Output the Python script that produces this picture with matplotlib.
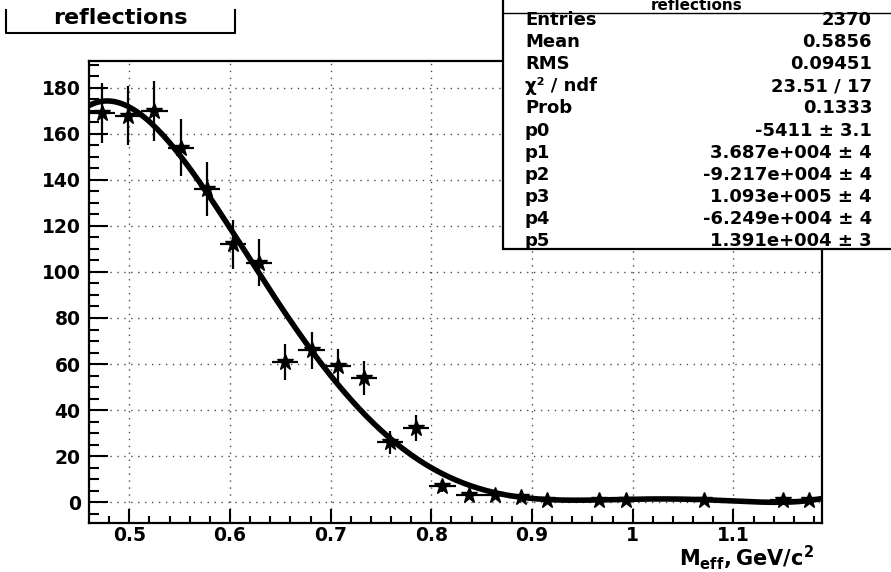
import numpy as np
import matplotlib.pyplot as plt
from matplotlib.patches import Rectangle
from matplotlib.lines import Line2D

# histogram "reflections": 28 bins, width 0.026, 0.46 .. 1.188
bin_centers = [0.473, 0.499, 0.525, 0.551, 0.577, 0.603, 0.629, 0.655, 0.681,
               0.707, 0.733, 0.759, 0.785, 0.811, 0.837, 0.863, 0.889, 0.915,
               0.941, 0.967, 0.993, 1.019, 1.045, 1.071, 1.097, 1.123, 1.149, 1.175]
counts = [169, 168, 170, 154, 136, 112, 104, 61, 66, 59, 54, 26, 32, 7, 3, 3, 2, 1,
          0, 1, 1, 0, 0, 1, 0, 0, 1, 1]
half_width = 0.013

# pol5 fit parameters p0..p5 (printed rounded in the stats box)
fit_params = [-5410.97, 36870.73, -92170.81, 109284.88, -62487.50, 13914.90]

stat_names = ['Entries', 'Mean', 'RMS', 'χ² / ndf', 'Prob',
              'p0', 'p1', 'p2', 'p3', 'p4', 'p5']
stat_values = ['2370', '0.5856', '0.09451', '23.51 / 17', '0.1333',
               '-5411 ± 3.1', '3.687e+004 ± 4', '-9.217e+004 ± 4',
               '1.093e+005 ± 4', '-6.249e+004 ± 4', '1.391e+004 ± 3']

xtick_pos = [0.5, 0.6, 0.7, 0.8, 0.9, 1.0, 1.1]
xtick_labels = ['0.5', '0.6', '0.7', '0.8', '0.9', '1', '1.1']

W, H = 891, 572
fx = lambda px: px / W
fy = lambda py: 1 - py / H


def main():
    plt.rcParams['font.family'] = 'DejaVu Sans'
    plt.rcParams['font.weight'] = 'bold'
    fig = plt.figure(figsize=(W/100, H/100), dpi=100)
    ax = fig.add_axes([fx(89), fy(523), fx(822) - fx(89), fy(61) - fy(523)])

    # histogram points, empty bins not drawn
    x = np.array(bin_centers)
    y = np.array(counts, dtype=float)
    m = y > 0
    ax.errorbar(x[m], y[m], yerr=np.sqrt(y[m]), xerr=half_width, fmt='*',
                color='k', ms=12, elinewidth=1.6, capsize=0, zorder=3)

    # fit function
    xf = np.linspace(0.46, 1.188, 400)
    ax.plot(xf, np.polyval(fit_params[::-1], xf), 'k-', lw=4, zorder=2)

    ax.set_xlim(0.46, 1.188)
    ax.set_ylim(-9.1, 191.7)
    ax.set_xticks(xtick_pos)
    ax.set_xticklabels(xtick_labels)
    ax.set_xticks(np.arange(0.48, 1.19, 0.02), minor=True)
    ax.set_yticks(np.arange(0, 181, 20))
    ax.set_yticks(np.arange(-5, 191, 5), minor=True)
    ax.grid(True, which='major', linestyle=(0, (1, 4)), color='k', lw=1.0,
            alpha=0.7)
    ax.set_axisbelow(True)
    for s in ax.spines.values():
        s.set_linewidth(1.6)
    ax.tick_params(axis='both', which='both', direction='in', width=1.5,
                   labelsize=13.5, top=False, right=False)
    ax.tick_params(axis='y', which='major', length=14, pad=6)
    ax.tick_params(axis='y', which='minor', length=7)
    ax.tick_params(axis='x', which='major', length=10, pad=2)
    ax.tick_params(axis='x', which='minor', length=5)

    fig.text(fx(814), fy(566),
             r'$\mathbf{M}_{\mathbf{eff}}\mathbf{,GeV/c}^{\mathbf{2}}$',
             ha='right', va='baseline', fontsize=15)

    # title box
    fig.add_artist(Line2D([fx(v) for v in [6, 6, 235, 235]],
                          [fy(v) for v in [10, 33, 33, 10]], color='k', lw=1.5))
    fig.text(fx(120), fy(18), 'reflections', ha='center', va='center',
             fontsize=16)

    # stats box
    fig.add_artist(Rectangle((fx(503), fy(249)), 1, 1, facecolor='w',
                             edgecolor='k', lw=1.6, zorder=5))
    fig.add_artist(Line2D([fx(503), 1], [fy(13), fy(13)], color='k', lw=1.0,
                          zorder=6))
    fig.text(fx(697), fy(6), 'reflections', ha='center', va='center',
             fontsize=11, zorder=6)
    for i, (nm, val) in enumerate(zip(stat_names, stat_values)):
        yy = fy(20 + 22.1*i)
        fig.text(fx(525), yy, nm, ha='left', va='center', fontsize=13,
                 zorder=6)
        fig.text(fx(872), yy, val, ha='right', va='center', fontsize=13,
                 zorder=6)

    fig.savefig('out.png', dpi=100)


if __name__ == '__main__':
    main()
